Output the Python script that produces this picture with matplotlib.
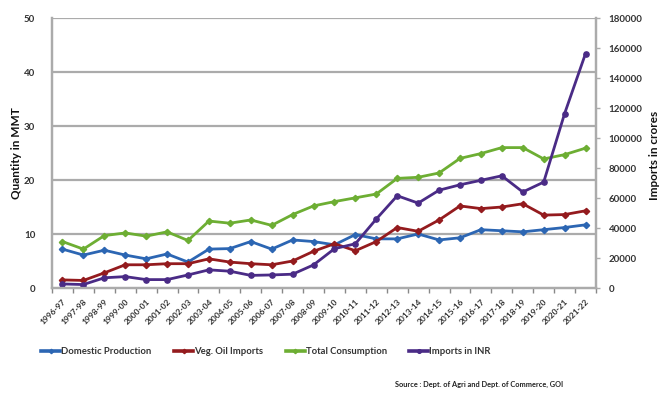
import matplotlib
matplotlib.use("Agg")
import matplotlib.pyplot as plt
from matplotlib.ticker import FixedLocator
import numpy as np

plt.rcParams['font.family'] = ['Lato', 'DejaVu Sans']

years = ["1996-97", "1997-98", "1998-99", "1999-00", "2000-01", "2001-02", "2002-03",
         "2003-04", "2004-05", "2005-06", "2006-07", "2007-08", "2008-09", "2009-10",
         "2010-11", "2011-12", "2012-13", "2013-14", "2014-15", "2015-16", "2016-17",
         "2017-18", "2018-19", "2019-20", "2020-21", "2021-22"]

domestic_production = [7.2, 6.1, 7.0, 6.1, 5.4, 6.3, 4.8, 7.2, 7.3, 8.6, 7.2, 8.9, 8.6, 8.0,
                       9.9, 9.1, 9.1, 10.0, 8.9, 9.3, 10.8, 10.6, 10.4, 10.8, 11.2, 11.7]
veg_oil_imports = [1.5, 1.4, 2.8, 4.3, 4.3, 4.5, 4.5, 5.4, 4.8, 4.5, 4.3, 5.0, 6.8, 8.2,
                   6.9, 8.6, 11.2, 10.5, 12.6, 15.2, 14.7, 15.0, 15.6, 13.5, 13.6, 14.3]
total_consumption = [8.6, 7.2, 9.7, 10.2, 9.6, 10.4, 8.8, 12.4, 12.0, 12.6, 11.6, 13.6, 15.2, 16.0,
                     16.7, 17.4, 20.3, 20.5, 21.3, 24.0, 24.9, 26.0, 26.0, 23.9, 24.7, 25.9]
imports_inr = [2700, 2300, 6800, 7600, 5600, 5600, 8700, 12100, 11200, 8400, 8700, 9200, 15400, 26200,
               29500, 46000, 61500, 56600, 65200, 68800, 71800, 74800, 64000, 70600, 116300, 156300]

left_ticks = [0, 10, 20, 30, 40, 50]
right_ticks = [0, 20000, 40000, 60000, 80000, 100000, 120000, 140000, 160000, 180000]

legend_labels = ["Domestic Production", "Veg. Oil Imports", "Total Consumption", "Imports in INR"]
colors = ["#2C66B3", "#941B1E", "#6DAE33", "#4A2B86"]

W, H = 661, 395
fig = plt.figure(figsize=(W / 100, H / 100), dpi=100)
ax = fig.add_axes([52 / W, 1 - 288 / H, (596 - 52) / W, (288 - 18) / H])
ax2 = ax.twinx()

x = np.arange(len(years))
lw = 2.0
l1, = ax.plot(x, domestic_production, color=colors[0], lw=lw, marker='D', ms=3.2, label=legend_labels[0])
l2, = ax.plot(x, veg_oil_imports, color=colors[1], lw=lw, marker='D', ms=3.2, label=legend_labels[1])
l3, = ax.plot(x, total_consumption, color=colors[2], lw=lw, marker='D', ms=3.2, label=legend_labels[2])
l4, = ax2.plot(x, imports_inr, color=colors[3], lw=lw, marker='o', ms=3.8, label=legend_labels[3])

ax.set_xlim(-0.5, len(years) - 0.5)
ax.set_ylim(0, 50)
ax2.set_ylim(0, 180000)
ax.set_yticks(left_ticks)
ax2.set_yticks(right_ticks)

grid_color = "#ababab"
for v in left_ticks[1:]:
    ax.axhline(v, color=grid_color, lw=1.6, zorder=0.5)

txt_color = "#333333"
ax.set_xticks(x)
ax.set_xticklabels(years, rotation=45, ha='right', rotation_mode='anchor',
                   fontsize=6.0, fontweight='bold', color=txt_color)
ax.xaxis.set_minor_locator(FixedLocator(np.arange(-0.5, len(years), 1.0)))
ax.tick_params(axis='x', which='major', length=0, pad=7)
ax.tick_params(axis='x', which='minor', length=3.5, color="#888888", width=1)
ax.tick_params(axis='y', length=0, pad=12, labelsize=7, labelcolor=txt_color)
for t in ax.get_yticklabels():
    t.set_fontweight('bold')
ax2.tick_params(axis='y', length=3, color=grid_color, width=1, pad=6, labelsize=7, labelcolor=txt_color)
for t in ax2.get_yticklabels():
    t.set_fontweight('bold')

for a in (ax, ax2):
    a.spines['top'].set_visible(False)
    for s in ('left', 'right', 'bottom'):
        a.spines[s].set_color(grid_color)
        a.spines[s].set_linewidth(1.6)

fig.text(17 / W, 1 - 153 / H, "Quantity in MMT", rotation=90, ha='center', va='center',
         fontsize=8.5, fontweight='bold', color='#111111')
fig.text(654 / W, 1 - 155 / H, "Imports in crores", rotation=90, ha='center', va='center',
         fontsize=8.5, fontweight='bold', color='#111111')

leg = fig.legend(handles=[l1, l2, l3, l4], labels=legend_labels, loc='center',
                 bbox_to_anchor=(266 / W, 1 - 352 / H), ncol=4, frameon=False,
                 prop={'size': 6.8, 'weight': 'bold'}, handlelength=2.0, handletextpad=0.1,
                 columnspacing=2.4, markerscale=0.7, labelcolor=txt_color)
for h in leg.legend_handles:
    h.set_linewidth(2.6)

fig.text(563 / W, 1 - 384 / H, "Source : Dept. of Agri and Dept. of Commerce, GOI",
         ha='right', va='center', fontsize=5.3, fontweight='bold', color='#222222')

fig.savefig("out.png", dpi=100)
